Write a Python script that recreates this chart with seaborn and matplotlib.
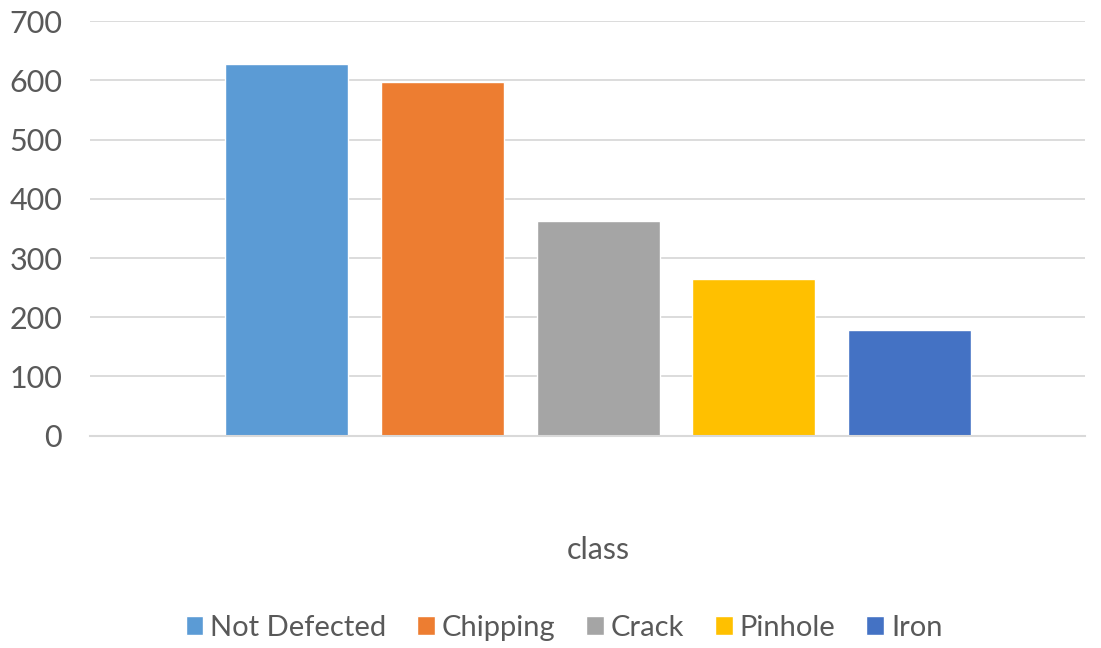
import matplotlib
matplotlib.use("Agg")
import matplotlib.pyplot as plt
import pandas as pd
import seaborn as sns

# data
category = ["class"] * 5
defects = ["Not Defected", "Chipping", "Crack", "Pinhole", "Iron"]
counts = [628, 597, 363, 265, 179]
colors = ["#5B9BD5", "#ED7D31", "#A5A5A5", "#FFC000", "#4472C4"]
yticks = [0, 100, 200, 300, 400, 500, 600, 700]

df = pd.DataFrame({"category": category, "defect": defects, "count": counts})

sns.set_theme(style="white")
plt.rcParams["font.family"] = ["Lato", "DejaVu Sans"]
text_col = "#595959"

fig = plt.figure(figsize=(11.01, 6.48), dpi=100)
ax = fig.add_axes([90 / 1101, (648 - 435.7) / 648, (1085 - 90) / 1101, (435.7 - 21.3) / 648])

sns.barplot(data=df, x="category", y="count", hue="defect", hue_order=defects,
            palette=colors, width=0.8, gap=0.21, saturation=1, ax=ax, legend=True)

ax.set_ylim(0, 700)
ax.set_xlim(-0.5217, 0.5)
ax.set_yticks(yticks)
ax.yaxis.grid(True, color="#D9D9D9", linewidth=1.3)
ax.set_axisbelow(True)
for s in ["top", "right", "left"]:
    ax.spines[s].set_visible(False)
ax.spines["bottom"].set_color("#D9D9D9")
ax.spines["bottom"].set_linewidth(1.5)

ax.set_xlabel("")
ax.set_ylabel("")
ax.tick_params(axis="y", length=0, pad=20, labelsize=22, labelcolor=text_col)
ax.tick_params(axis="x", length=0, pad=72, labelsize=22, labelcolor=text_col)

handles, labels = ax.get_legend_handles_labels()
ax.get_legend().remove()
fig.legend(handles, labels, loc="center", bbox_to_anchor=(564 / 1101, 1 - 628 / 648),
           ncol=5, frameon=False, fontsize=21, labelcolor=text_col,
           handlelength=0.6, handleheight=0.6, handletextpad=0.25, columnspacing=1.05)

fig.savefig("out.png", dpi=100)
